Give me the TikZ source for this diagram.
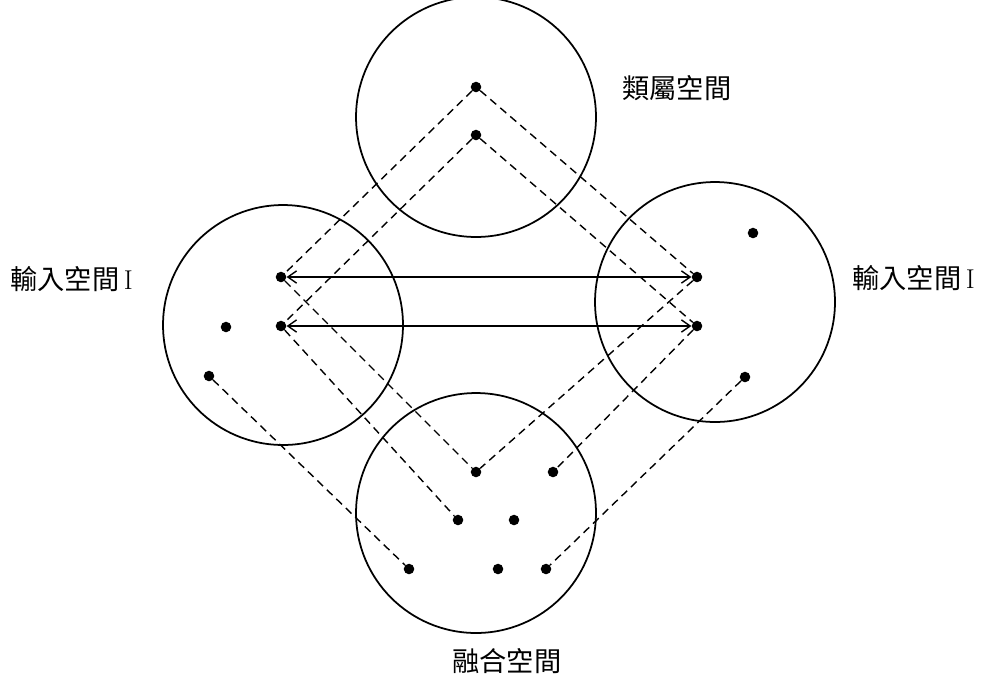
\documentclass[tikz,border=0pt]{standalone}
\usepackage{fontspec}
\newfontfamily\cjk{Noto Sans CJK TC}
\usepackage{tikz}
\usetikzlibrary{positioning, arrows.meta}

\begin{document}
\begin{tikzpicture}[x=0.02cm, y=-0.02cm,
                space/.style={draw=black, line width=1pt, circle, minimum size=4.8cm, inner sep=0pt},
                pt/.style={fill=black, circle, minimum size=6pt, inner sep=0pt},
                edge/.style={line width=0.8pt, {Straight Barb[length=5pt,width=7pt]}-{Straight Barb[length=5pt,width=7pt]}},
                dedge/.style={line width=0.8pt, dash pattern=on 4.5pt off 3pt},
                varlabel/.style={font=\fontsize{15.5}{17}\selectfont, inner sep=0pt}
            ]
            \useasboundingbox (0,0) rectangle (982,677);

            % Raeume
            \node[space] (G) at (476,117) {};
            \node[space] (L) at (283,325) {};
            \node[space] (R) at (715,302) {};
            \node[space] (B) at (476,513) {};

            % Beschriftung
            \node[varlabel, anchor=west] (gl) at (622,88) {\cjk 類屬空間};
            \node[varlabel, anchor=west] (ll) at (10,279) {\cjk 輸入空間\,\normalfont I};
            \node[varlabel, anchor=west] (rl) at (852,278) {\cjk 輸入空間\,\normalfont I};
            \node[varlabel, anchor=west] (bl) at (452,661) {\cjk 融合空間};

            % Punkte
            \node[pt] (g1) at (476,87) {};
            \node[pt] (g2) at (476,135) {};
            \node[pt] (l1) at (281,277) {};
            \node[pt] (l2) at (281,326) {};
            \node[pt] (l3) at (226,327) {};
            \node[pt] (l4) at (209,376) {};
            \node[pt] (r1) at (697,277) {};
            \node[pt] (r2) at (697,326) {};
            \node[pt] (r3) at (753,233) {};
            \node[pt] (r4) at (745,377) {};
            \node[pt] (b1) at (476,472) {};
            \node[pt] (b2) at (553,472) {};
            \node[pt] (b3) at (458,520) {};
            \node[pt] (b4) at (514,520) {};
            \node[pt] (b5) at (409,569) {};
            \node[pt] (b6) at (498,569) {};
            \node[pt] (b7) at (546,569) {};

            % Kanten
            \draw[edge] (l1) -- (r1);
            \draw[edge] (l2) -- (r2);
            \draw[dedge] (g1) -- (l1);
            \draw[dedge] (g1) -- (r1);
            \draw[dedge] (g2) -- (l2);
            \draw[dedge] (g2) -- (r2);
            \draw[dedge] (l1) -- (b1);
            \draw[dedge] (r1) -- (b1);
            \draw[dedge] (l2) -- (b3);
            \draw[dedge] (r2) -- (b2);
            \draw[dedge] (l4) -- (b5);
            \draw[dedge] (r4) -- (b7);

        \end{tikzpicture}
\end{document}
